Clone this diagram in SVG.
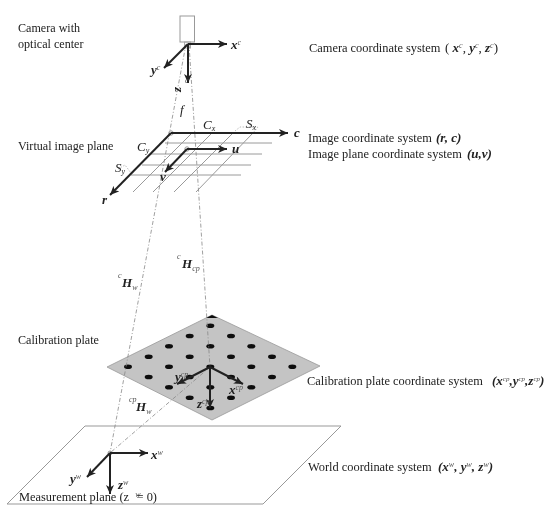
<svg xmlns="http://www.w3.org/2000/svg" width="554" height="511" viewBox="0 0 554 511">
<style>
text{font-family:"Liberation Serif","Times New Roman",serif;font-size:12.1px;fill:#222}
.b{font-weight:bold;font-style:italic;font-size:13px}
.i{font-style:italic;font-size:13px}
.s{font-size:8px;font-style:italic;font-weight:normal;fill:#555}
.t{font-size:7px;font-style:italic;font-weight:normal;fill:#555}
.r{font-size:12.4px}
.n{font-weight:normal;font-style:normal}
.g{stroke:#9a9a9a;stroke-width:1;fill:none}
.a{stroke:#222;stroke-width:2;fill:none;marker-end:url(#h)}
.d{stroke:#888;stroke-width:.8;stroke-dasharray:4 2 1 2;fill:none}
.o{stroke:#aaa;stroke-width:.8;stroke-dasharray:1.5 1.5;fill:none}
</style>
<defs>
<marker id="h" markerUnits="userSpaceOnUse" markerWidth="10" markerHeight="8" refX="9" refY="4" orient="auto"><path d="M0 0L9 4L0 8L2.5 4Z" fill="#222"/></marker>
<filter id="f" x="-5%" y="-5%" width="110%" height="110%"><feGaussianBlur stdDeviation=".35"/></filter>
</defs>
<rect width="554" height="511" fill="#fff"/>
<g filter="url(#f)">
<g id="world-plane"><path d="M85 426H341L263 504H7Z" fill="#fff" stroke="#999" stroke-width="1"/></g>
<g id="calibration-plate">
<path d="M107 367L212 315L320 366L212 420Z" fill="#c4c4c4" stroke="#999" stroke-width=".8"/>
<path d="M206 318L212 315L218 318Z" fill="#111"/>
<g fill="#111">
<ellipse cx="210.3" cy="325.7" rx="4" ry="2.3"/><ellipse cx="189.7" cy="336" rx="4" ry="2.3"/><ellipse cx="231" cy="336" rx="4" ry="2.3"/><ellipse cx="169" cy="346.3" rx="4" ry="2.3"/><ellipse cx="210.3" cy="346.3" rx="4" ry="2.3"/><ellipse cx="251.3" cy="346.3" rx="4" ry="2.3"/><ellipse cx="148.7" cy="356.7" rx="4" ry="2.3"/><ellipse cx="189.7" cy="356.7" rx="4" ry="2.3"/><ellipse cx="231" cy="356.7" rx="4" ry="2.3"/><ellipse cx="272" cy="356.7" rx="4" ry="2.3"/><ellipse cx="128" cy="366.7" rx="4" ry="2.3"/><ellipse cx="169" cy="366.7" rx="4" ry="2.3"/><ellipse cx="210.3" cy="366.7" rx="4" ry="2.3"/><ellipse cx="251.3" cy="366.7" rx="4" ry="2.3"/><ellipse cx="292.3" cy="366.7" rx="4" ry="2.3"/><ellipse cx="148.7" cy="377" rx="4" ry="2.3"/><ellipse cx="189.7" cy="377" rx="4" ry="2.3"/><ellipse cx="231" cy="377" rx="4" ry="2.3"/><ellipse cx="272" cy="377" rx="4" ry="2.3"/><ellipse cx="169" cy="387.3" rx="4" ry="2.3"/><ellipse cx="210.3" cy="387.3" rx="4" ry="2.3"/><ellipse cx="251.3" cy="387.3" rx="4" ry="2.3"/><ellipse cx="189.7" cy="397.7" rx="4" ry="2.3"/><ellipse cx="231" cy="397.7" rx="4" ry="2.3"/><ellipse cx="210.3" cy="408" rx="4" ry="2.3"/>
</g>
</g>
<g id="image-plane" class="g">
<path d="M165 143H272M150 154H262M142 165H251M131 175H241M192 133L133 192M212 133L153 192M233 133L174 192M253 133L196 192"/>
</g>
<g id="camera"><rect x="180" y="16" width="14.5" height="26" fill="#fff" stroke="#999"/><rect x="184.500" y="42" width="6" height="6" fill="none" stroke="#aaa"/></g>
<g id="connectors">
<path class="d" d="M186 44L110 453"/>
<path class="d" d="M189 44L210 367"/>
<path class="d" d="M210 367L110 453"/>
<path class="o" d="M235 131L240 127L258 127L253 133M118 169L125 165L131 173L125 179"/>
<circle cx="171" cy="133" r="2.200" fill="none" stroke="#999"/>
<circle cx="187" cy="149" r="2.200" fill="none" stroke="#999"/>
<circle cx="110" cy="453" r="2" fill="none" stroke="#999"/>
<path class="a" d="M188 44H227"/><path class="a" d="M188 44L164 68"/><path class="a" d="M188 44V83"/>
<path class="a" d="M171 133H288"/><path class="a" d="M171 133L110 195"/>
<path class="a" d="M187 149H227"/><path class="a" d="M187 149L165 172"/>
<path class="a" d="M210 367L177 384"/><path class="a" d="M210 367L243 384"/><path class="a" d="M210 367V408"/>
<path class="a" d="M110 453H148"/><path class="a" d="M110 453L87 477"/><path class="a" d="M110 453V494"/>
</g>
<g id="labels">
<text x="18" y="32">Camera with</text>
<text x="18" y="48">optical center</text>
<text x="18" y="150">Virtual image plane</text>
<text x="18" y="344">Calibration plate</text>
<text x="19" y="501" class="r">Measurement plane (z <tspan class="s" dx="3" dy="-4">w</tspan><tspan dx="-4" dy="4">=</tspan> 0)</text>
<text x="309" y="52" class="r">Camera coordinate system</text>
<text x="445" y="52" class="b"><tspan class="n">(</tspan> x<tspan class="s" dy="-4">c</tspan><tspan dy="4" class="n">, </tspan>y<tspan class="s" dy="-4">c</tspan><tspan dy="4" class="n">, </tspan>z<tspan class="s" dy="-4">c</tspan><tspan dy="4" class="n">)</tspan></text>
<text x="308" y="141.500" class="r">Image coordinate system</text>
<text x="436" y="141.500" class="b">(r, c)</text>
<text x="308" y="158" class="r">Image plane coordinate system</text>
<text x="467" y="158" class="b">(u,v)</text>
<text x="307" y="385" class="r">Calibration plate coordinate system</text>
<text x="492" y="385" class="b">(x<tspan class="t" dy="-4">cp</tspan><tspan dy="4">,y</tspan><tspan class="t" dy="-4">cp</tspan><tspan dy="4">,z</tspan><tspan class="t" dy="-4">cp</tspan><tspan dy="4">)</tspan></text>
<text x="308" y="471" class="r">World coordinate system</text>
<text x="438" y="471" class="b">(x<tspan class="s" dy="-4">w</tspan><tspan dy="4">, y</tspan><tspan class="s" dy="-4">w</tspan><tspan dy="4">, z</tspan><tspan class="s" dy="-4">w</tspan><tspan dy="4">)</tspan></text>
<text x="231" y="49" class="b">x<tspan class="s" dy="-4">c</tspan></text>
<text x="151" y="74" class="b">y<tspan class="s" dy="-4">c</tspan></text>
<text x="181" y="92" class="b" transform="rotate(-90 181 92)">z</text><text x="185" y="83" class="s">c</text>
<text x="180" y="114" class="i">f</text>
<text x="203" y="129" class="i">C<tspan font-size="8" dy="2">x</tspan></text>
<text x="246" y="128" class="i">S<tspan font-size="8" dy="2">x</tspan></text>
<text x="137" y="151" class="i">C<tspan font-size="8" dy="2">y</tspan></text>
<text x="115" y="172" class="i">S<tspan font-size="8" dy="2">y</tspan></text>
<text x="294" y="137" class="b">c</text>
<text x="102" y="204" class="b">r</text>
<text x="232" y="153" class="b">u</text>
<text x="160" y="181" class="b">v</text>
<text x="177" y="259" class="s">c</text><text x="182" y="268" class="b">H<tspan class="s" dy="3">cp</tspan></text>
<text x="118" y="278" class="s">c</text><text x="122" y="287" class="b">H<tspan class="s" dy="3">w</tspan></text>
<text x="129" y="402" class="s">cp</text><text x="136" y="411" class="b">H<tspan class="s" dy="3">w</tspan></text>
<text x="175" y="381" class="b">y<tspan class="s" dy="-4">cp</tspan></text>
<text x="229" y="394" class="b">x<tspan class="s" dy="-4">cp</tspan></text>
<text x="197" y="408" class="b">z<tspan class="s" dy="-4">cp</tspan></text>
<text x="151" y="459" class="b">x<tspan class="s" dy="-4">w</tspan></text>
<text x="70" y="483" class="b">y<tspan class="s" dy="-4">w</tspan></text>
<text x="118" y="489" class="b">z<tspan class="s" dy="-4">w</tspan></text>
</g>
</g>
</svg>
